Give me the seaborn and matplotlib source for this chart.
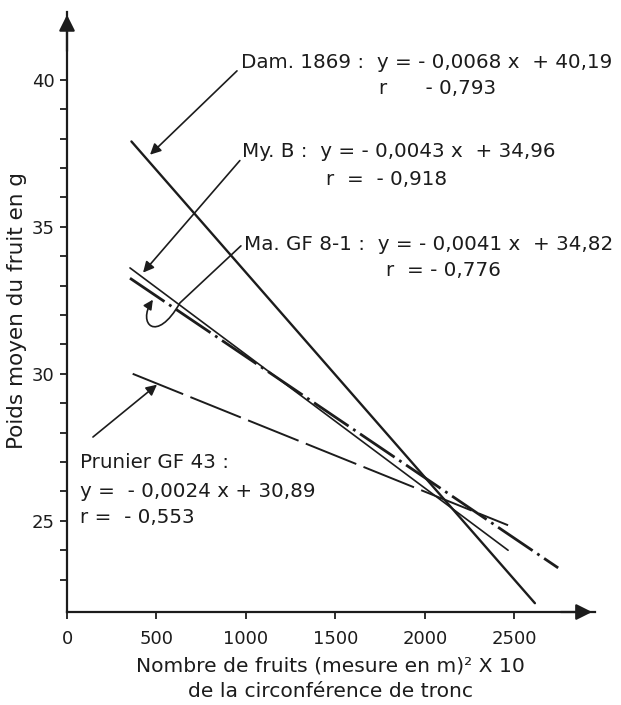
import numpy as np
import pandas as pd
import seaborn as sns
import matplotlib
matplotlib.use('Agg')
import matplotlib.pyplot as plt
from matplotlib.path import Path
from matplotlib.patches import FancyArrowPatch

# Regression lines (end points of each drawn segment)
series = ["Dam. 1869", "My. B", "Ma. GF 8-1", "Prunier GF 43"]
x_start = [360, 352, 352, 367]
x_end = [2615, 2465, 2745, 2465]
y_start = [37.9, 33.6, 33.25, 30.0]
y_end = [22.2, 24.0, 23.4, 24.85]

equations = [
    "Dam. 1869 :  y = - 0,0068 x  + 40,19",
    "My. B :  y = - 0,0043 x  + 34,96",
    "Ma. GF 8-1 :  y = - 0,0041 x  + 34,82",
]
r_labels = ["r      - 0,793", "r  =  - 0,918", "r  = - 0,776"]
prunier_text = ["Prunier GF 43 :", "y =  - 0,0024 x + 30,89", "r =  - 0,553"]

x_ticks = [0, 500, 1000, 1500, 2000, 2500]
y_ticks = list(range(23, 41))
y_ticklabels = ["25", "30", "35", "40"]

df = pd.DataFrame({
    "serie": np.repeat(series, 2),
    "x": np.ravel(list(zip(x_start, x_end))),
    "y": np.ravel(list(zip(y_start, y_end))),
})

sns.set_theme(style="ticks")
plt.rcParams['font.family'] = ['DejaVu Sans']
ink = "#1c1c1c"

fig = plt.figure(figsize=(6.21, 7.05), dpi=100)
ax = fig.add_axes([0.1079, 0.1319, 0.850, 0.851])

styles = {
    "Dam. 1869": dict(lw=1.7, dashes=None),
    "My. B": dict(lw=1.2, dashes=None),
    "Ma. GF 8-1": dict(lw=2.0, dashes=(15, 2, 1, 2)),
    "Prunier GF 43": dict(lw=1.4, dashes=(28, 4)),
}
for name in series:
    sub = df[df["serie"] == name]
    sns.lineplot(data=sub, x="x", y="y", ax=ax, color=ink,
                 lw=styles[name]["lw"], sort=False, estimator=None)
    if styles[name]["dashes"]:
        ax.lines[-1].set_dashes(styles[name]["dashes"])
        ax.lines[-1].set_dash_capstyle("butt")

ax.set_xlim(0, 2950)
ax.set_ylim(21.9, 42.3)
sns.despine(ax=ax)
for s in ["left", "bottom"]:
    ax.spines[s].set_linewidth(1.6)
    ax.spines[s].set_color(ink)

ax.set_xticks(x_ticks)
ax.set_xticklabels([str(v) for v in x_ticks])
ax.set_yticks(y_ticks)
ax.set_yticklabels([str(v) if str(v) in y_ticklabels else "" for v in y_ticks])
ax.tick_params(axis="both", direction="out", length=5, width=1.3, colors=ink,
               labelsize=13, pad=4)
ax.tick_params(axis="x", pad=8)

# axis arrows
ax.annotate("", xy=(1.0, 0), xytext=(0.93, 0), xycoords="axes fraction",
            arrowprops=dict(arrowstyle="-|>", color=ink, lw=1.6, mutation_scale=24))
ax.annotate("", xy=(0, 1.0), xytext=(0, 0.93), xycoords="axes fraction",
            arrowprops=dict(arrowstyle="-|>", color=ink, lw=1.6, mutation_scale=24))

ax.set_ylabel("Poids moyen du fruit en g", fontsize=15.5, color=ink)
ax.yaxis.set_label_coords(-0.076, 0.502)
ax.set_xlabel("Nombre de fruits (mesure en m)² X 10\nde la circonférence de tronc",
              fontsize=14.6, color=ink, labelpad=6, linespacing=1.45)

# equations
txt = dict(fontsize=14.3, color=ink, ha="left", va="center")
ax.text(970, 40.6, equations[0], **txt)
ax.text(1745, 39.7, r_labels[0], **txt)
ax.text(980, 37.55, equations[1], **txt)
ax.text(1450, 36.6, r_labels[1], **txt)
ax.text(990, 34.4, equations[2], **txt)
ax.text(1780, 33.5, r_labels[2], **txt)
ax.text(70, 27.0, prunier_text[0], **txt)
ax.text(70, 26.0, prunier_text[1], **txt)
ax.text(70, 25.1, prunier_text[2], **txt)

arrow = dict(arrowstyle="-|>", color=ink, lw=1.2, mutation_scale=16, shrinkA=0, shrinkB=0)
ax.annotate("", xy=(464, 37.45), xytext=(950, 40.3), arrowprops=arrow)
ax.annotate("", xy=(425, 33.44), xytext=(966, 37.25), arrowprops=arrow)
ax.annotate("", xy=(503, 29.63), xytext=(145, 27.85), arrowprops=arrow)

# looped pointer for Ma. GF 8-1
verts = [(972, 34.35), (631, 32.41), (500, 31.0), (390, 31.7), (480, 32.52)]
codes = [Path.MOVETO, Path.LINETO, Path.CURVE4, Path.CURVE4, Path.CURVE4]
ax.add_patch(FancyArrowPatch(path=Path(verts, codes), arrowstyle="-|>",
                             color=ink, lw=1.2, mutation_scale=14))

fig.savefig("out.png", dpi=100, facecolor="white")
